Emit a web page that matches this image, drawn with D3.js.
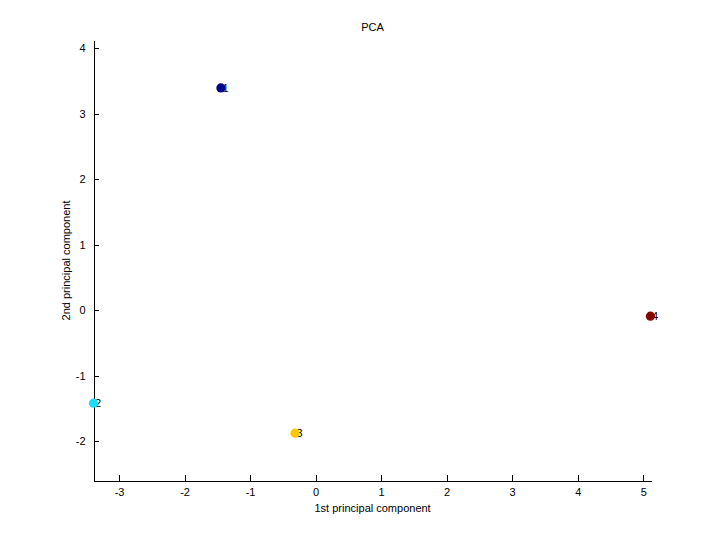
<!DOCTYPE html>
<html><head><meta charset="utf-8">
<script src="https://cdn.jsdelivr.net/npm/d3@7"></script>
<style>body{margin:0;background:#fff}svg{display:block}text{font-family:"Liberation Sans",Arial,Helvetica,sans-serif}</style>
</head><body>
<script>
const labels = ["1","2","3","4"];
const pc1 = [-1.445, -3.39, -0.314, 5.11];
const pc2 = [3.395, -1.419, -1.877, -0.091];
const colors = ["#00008f","#19dcff","#ffc800","#8a0000"];
const xTicks = [-3,-2,-1,0,1,2,3,4,5];
const yTicks = [-2,-1,0,1,2,3,4];
const title = "PCA", xLabel = "1st principal component", yLabel = "2nd principal component";

const W=720,H=540, L=93.6, T=40.5, PW=558, PH=440;
const svg=d3.select("body").append("svg").attr("width",W).attr("height",H);
const x=d3.scaleLinear().domain([-3.388,5.128]).range([L,L+PW]);
const y=d3.scaleLinear().domain([-2.60,4.12]).range([T+PH,T]);
const fmt = d => String(d);

const gx=svg.append("g").attr("transform",`translate(0,${T+PH})`)
  .call(d3.axisBottom(x).tickValues(xTicks).tickSizeInner(-5.5).tickSizeOuter(0).tickPadding(8).tickFormat(fmt));
const gy=svg.append("g").attr("transform",`translate(${L},0)`)
  .call(d3.axisLeft(y).tickValues(yTicks).tickSizeInner(-5.5).tickSizeOuter(0).tickPadding(8).tickFormat(fmt));
[gx,gy].forEach(g=>{g.selectAll("path,line").attr("stroke","#000").attr("shape-rendering","crispEdges");
  g.selectAll("text").attr("font-size",11).attr("fill","#000").style("font-family","'Liberation Sans',Arial,sans-serif");});
gx.selectAll("text").attr("dy","0.71em");

svg.append("text").attr("x",L+PW/2).attr("y",31).attr("text-anchor","middle").attr("font-size",11).text(title);
svg.append("text").attr("x",L+PW/2).attr("y",512).attr("text-anchor","middle").attr("font-size",11).text(xLabel);
svg.append("text").attr("transform",`translate(70,${T+PH/2}) rotate(-90)`).attr("text-anchor","middle").attr("font-size",11).text(yLabel);

const idx=d3.range(labels.length);
svg.append("g").selectAll("text").data(idx).join("text")
  .attr("x",i=>x(pc1[i])+1.5).attr("y",i=>y(pc2[i])+4).attr("font-size",11).attr("fill","#000").text(i=>labels[i]);
svg.append("g").selectAll("circle").data(idx).join("circle")
  .attr("cx",i=>x(pc1[i])).attr("cy",i=>y(pc2[i])).attr("r",4.6).attr("fill",i=>colors[i]);
</script>
</body></html>
